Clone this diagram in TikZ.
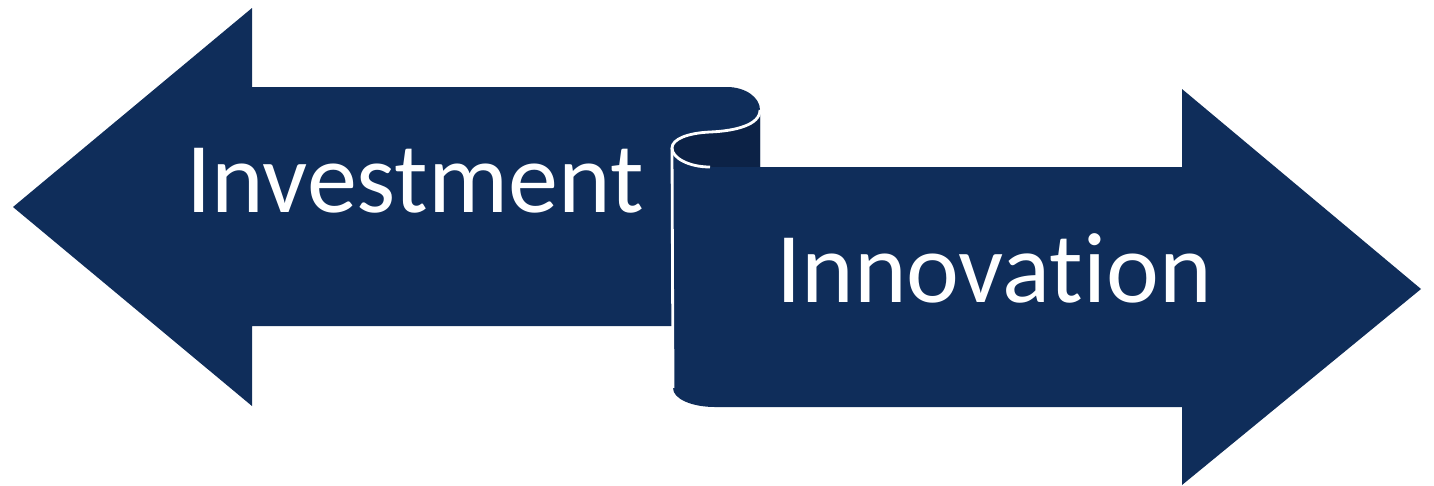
\documentclass[tikz,border=0pt]{standalone}
\usepackage{fontspec}
\setmainfont{Carlito}[Ligatures=NoCommon]
\definecolor{navy}{HTML}{0F2D5A}
\definecolor{navydark}{HTML}{0C2246}
\begin{document}
\begin{tikzpicture}[x=0.02cm,y=-0.02cm,
  shapefill/.style={fill=navy},
  rolledge/.style={draw=white,line width=1.6pt,line join=round},
  label/.style={text=white,font=\fontsize{57}{62}\selectfont,inner sep=0pt,anchor=base}]
\useasboundingbox (0,0) rectangle (1434,485);
% left arrow
\path[shapefill] (13,207) -- (252,8) -- (252,87) -- (727,87)
  .. controls (745,87) and (760,97) .. (760,110) -- (760,167) -- (672,167)
  -- (672,326) -- (252,326) -- (252,406) -- cycle;
% back of the roll
\path[fill=navydark] (760,110) .. controls (760,125) and (735,131) .. (710,132)
  .. controls (688,133) and (672,139) .. (672,148)
  .. controls (672,158) and (689,167) .. (710,167) -- (760,167) -- cycle;
% right arrow
\path[shapefill] (672,148) .. controls (672,158) and (689,167) .. (710,167)
  -- (1182,167) -- (1182,89) -- (1421,289) -- (1182,485) -- (1182,407)
  -- (715,407) .. controls (692,407) and (673,399) .. (673,388) -- cycle;
% white edges of the roll
\draw[rolledge] (760,110) .. controls (760,125) and (735,131) .. (710,132)
  .. controls (688,133) and (672,139) .. (672,148)
  .. controls (672,158) and (689,167) .. (710,167);
\draw[rolledge] (672,148) -- (673,388);
\node[label] (inv) at (415,212) {Investment};
\node[label] (inn) at (994,302) {Innovation};
\end{tikzpicture}
\end{document}
